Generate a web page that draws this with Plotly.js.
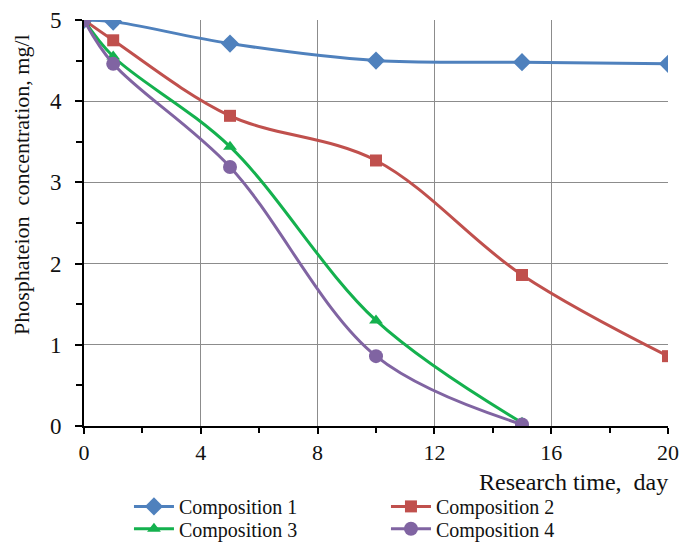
<!DOCTYPE html>
<html>
<head>
<meta charset="utf-8">
<script src="https://cdn.plot.ly/plotly-3.0.1.min.js"></script>
<style>html,body{margin:0;padding:0;background:#fff;}#chart{width:681px;height:542px;}</style>
</head>
<body>
<div id="chart"></div>
<script>
const days1 = [0, 1, 5, 10, 15, 20];
const comp1 = [5.0, 4.98, 4.71, 4.50, 4.48, 4.46];
const days2 = [0, 1, 5, 10, 15, 20];
const comp2 = [5.0, 4.75, 3.82, 3.27, 1.86, 0.86];
const days3 = [0, 1, 5, 10, 15];
const comp3 = [5.0, 4.55, 3.44, 1.30, 0.04];
const days4 = [0, 1, 5, 10, 15];
const comp4 = [5.0, 4.46, 3.19, 0.86, 0.02];
const names = ["Composition 1", "Composition 2", "Composition 3", "Composition 4"];
const colors = ["#4F81BD", "#C0504D", "#14B14E", "#8064A2"];
const symbols = ["diamond", "square", "triangle-up", "circle"];
const sizes = [14, 12, 12, 14];
const legendIds = ["legend", "legend", "legend2", "legend2"];
const xs = [days1, days2, days3, days4];
const ys = [comp1, comp2, comp3, comp4];
const xTitle = "Research time,\u00A0 day";
const yTitle = "Phosphateion\u00A0 concentration, mg/l";

const FONT = "Liberation Serif, Times New Roman, serif";
const traces = ys.map((y, i) => ({
  x: xs[i], y: y, name: names[i], type: "scatter", mode: "lines+markers",
  legend: legendIds[i],
  line: {color: colors[i], width: 3, shape: "spline", smoothing: 1},
  marker: {color: colors[i], symbol: symbols[i], size: sizes[i]}
}));

const legendBase = {
  orientation: "h", x: 0.077, xanchor: "left", yanchor: "top",
  font: {family: FONT, size: 20, color: "#111"},
  entrywidth: 202, entrywidthmode: "pixels",
  itemwidth: 40, bgcolor: "rgba(0,0,0,0)"
};

const layout = {
  width: 681, height: 542,
  margin: {l: 84, r: 13, t: 20, b: 116, autoexpand: false},
  paper_bgcolor: "#fff", plot_bgcolor: "#fff",
  font: {family: FONT, size: 22, color: "#111"},
  showlegend: true,
  xaxis: {
    range: [0, 20], dtick: 4, tick0: 0, automargin: false,
    showline: true, linecolor: "#000", linewidth: 2,
    showgrid: true, gridcolor: "#8c8c8c", gridwidth: 1,
    zeroline: false,
    ticks: "outside", ticklen: 6, tickwidth: 2, tickcolor: "#000",
    minor: {dtick: 2, ticks: "outside", ticklen: 5, tickwidth: 2, tickcolor: "#000", showgrid: false},
    tickfont: {family: FONT, size: 22, color: "#111"}
  },
  yaxis: {
    range: [0, 5], dtick: 1, tick0: 0, automargin: false,
    showline: true, linecolor: "#000", linewidth: 2,
    showgrid: true, gridcolor: "#8c8c8c", gridwidth: 1,
    zeroline: false,
    ticks: "outside", ticklen: 7, tickwidth: 2, tickcolor: "#000",
    ticklabelstandoff: 9,
    minor: {dtick: 0.5, ticks: "outside", ticklen: 6, tickwidth: 2, tickcolor: "#000", showgrid: false},
    tickfont: {family: FONT, size: 23, color: "#111"}
  },
  legend: Object.assign({}, legendBase, {y: -0.15}),
  legend2: Object.assign({}, legendBase, {y: -0.205}),
  annotations: [{
    text: xTitle, xref: "paper", yref: "paper",
    x: 1.003, xanchor: "right", y: -0.137, yanchor: "middle", showarrow: false,
    font: {family: FONT, size: 24, color: "#111"}
  }, {
    text: yTitle, xref: "paper", yref: "paper", textangle: -90,
    x: -0.106, xanchor: "center", y: 0.594, yanchor: "middle", showarrow: false,
    font: {family: FONT, size: 22, color: "#111"}
  }]
};
Plotly.newPlot("chart", traces, layout, {displayModeBar: false, staticPlot: true});
</script>
</body>
</html>
